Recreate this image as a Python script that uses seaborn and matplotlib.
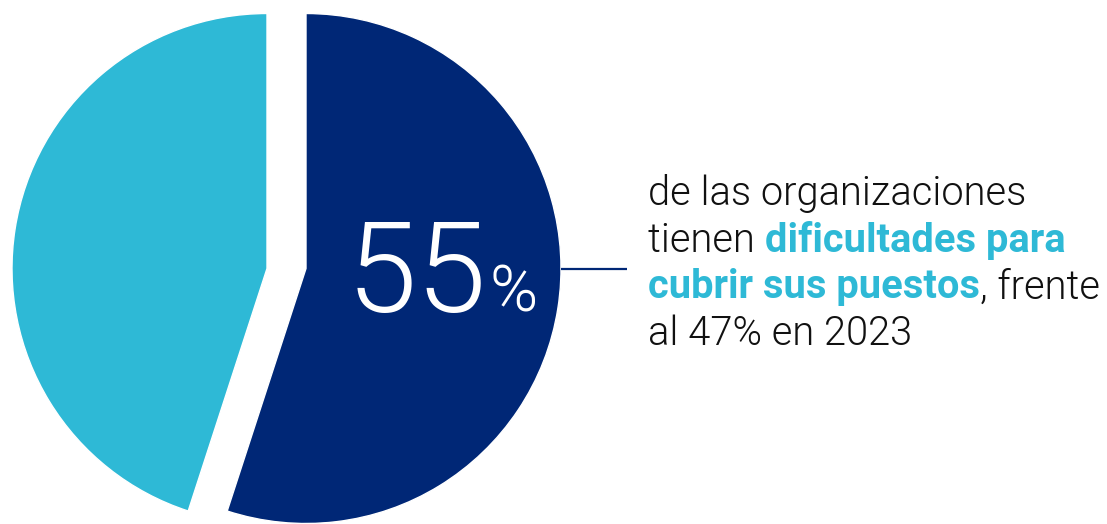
import matplotlib.pyplot as plt
import seaborn as sns

#%% data
labels = ['Con dificultades', 'Sin dificultades']
shares = [55, 45]
headline = '55'
headline_unit = '%'
# each line of the side note: (text, highlighted)
note_lines = [
    [('de las organizaciones', False)],
    [('tienen ', False), ('dificultades para', True)],
    [('cubrir sus puestos', True), (', frente', False)],
    [('al 47% en 2023', False)],
]

navy = '#002776'
cyan = '#2EB9D6'

#%% style
sns.set_style('white')
plt.rcParams['font.family'] = ['Roboto', 'DejaVu Sans']

W, H = 1107, 524
fig = plt.figure(figsize=(W / 100, H / 100), dpi=100)
ax = fig.add_axes([0, 0, 1, 1])

# pie, pixel units (y up)
cx, cy, R, gap = 286.5, 255.5, 255, 19.5
wedges, _ = ax.pie(shares, colors=[navy, cyan], startangle=90, counterclock=False,
                   radius=R, center=(cx, cy), frame=True)
# split the two slices sideways
wedges[0].set_center((cx + gap, cy))
wedges[1].set_center((cx - gap, cy))

ax.set_xlim(0, W)
ax.set_ylim(0, H)
ax.set_aspect('equal')
ax.axis('off')

# leader line
ax.plot([561, 627], [255, 255], color=navy, lw=1.6, solid_capstyle='butt')

renderer = fig.canvas.get_renderer()

# big number inside the dark slice
t = ax.text(347, 212, headline, color='white', fontsize=91, fontweight=300,
            va='baseline', ha='left')
bb = t.get_window_extent(renderer)
ax.text(bb.x1 + 2, 212, headline_unit, color='white', fontsize=47, fontweight=300,
        va='baseline', ha='left')

# side note, mixed weights
x0, y0, step = 648, 524 - 205, 46.7
for i, line in enumerate(note_lines):
    x = x0
    y = y0 - i * step
    for txt, hi in line:
        t = ax.text(x, y, txt, fontsize=28.7,
                    color=cyan if hi else '#111111',
                    fontweight='bold' if hi else 300,
                    va='baseline', ha='left')
        x = t.get_window_extent(renderer).x1

fig.savefig('out.png', dpi=100)
